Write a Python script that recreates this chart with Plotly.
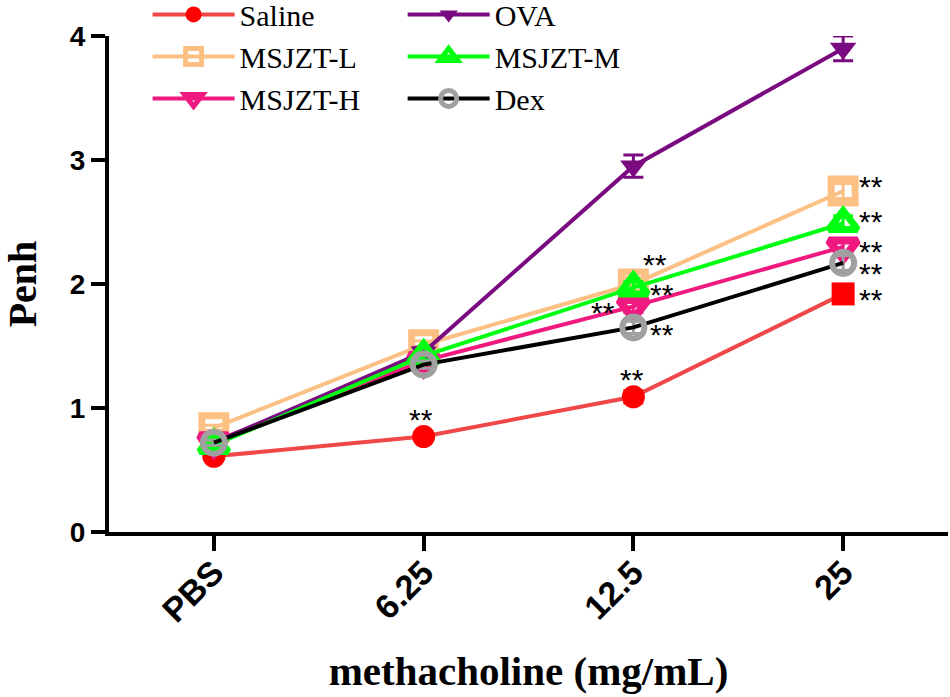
import plotly.graph_objects as go

# methacholine doses
doses = ["PBS", "6.25", "12.5", "25"]
xpos = [0, 1, 2, 3]

saline = [0.61, 0.77, 1.09, 1.92]
ova = [0.72, 1.45, 2.95, 3.90]
msjzt_l = [0.84, 1.51, 2.00, 2.75]
msjzt_m = [0.70, 1.42, 1.97, 2.49]
msjzt_h = [0.73, 1.38, 1.82, 2.30]
dex = [0.72, 1.35, 1.65, 2.17]

ova_err = [0.03, 0.04, 0.09, 0.10]
small_err = [0.02, 0.03, 0.05, 0.06]

serif = "Liberation Serif"
sans = "Liberation Sans"

fig = go.Figure()


def add_group(name, y, line_color, marker, legend, err=None, symbols=None):
    if marker["symbol"].endswith("open"):
        err_color = marker["line"]["color"]
    else:
        err_color = marker["color"]
    fig.add_trace(
        go.Scatter(
            x=xpos,
            y=y,
            name=name,
            mode="lines+markers",
            line=dict(color=line_color, width=4),
            marker=marker if symbols is None else dict(marker, symbol=symbols),
            error_y=dict(
                type="data",
                array=err if err is not None else small_err,
                color=err_color,
                thickness=3,
                width=10,
            ),
            legend=legend,
            legendgroup=name,
        )
    )


add_group("Saline", saline, "#f04848",
          dict(symbol="circle", size=23, color="#ff0000"), "legend",
          symbols=["circle", "circle", "circle", "square"])
add_group("MSJZT-L", msjzt_l, "#fcc084",
          dict(symbol="square-open", size=24, color="#fcc084",
               line=dict(color="#fcc084", width=7)), "legend")
add_group("MSJZT-H", msjzt_h, "#f0197f",
          dict(symbol="triangle-down-open", size=25, color="#f0197f",
               line=dict(color="#f0197f", width=8)), "legend")
add_group("OVA", ova, "#7a0a80",
          dict(symbol="triangle-down", size=23, color="#7a0a80"), "legend2",
          err=ova_err)
add_group("MSJZT-M", msjzt_m, "#00ff10",
          dict(symbol="triangle-up-open", size=25, color="#00ff10",
               line=dict(color="#00ff10", width=7)), "legend2")
add_group("Dex", dex, "#000000",
          dict(symbol="circle-open", size=22, color="#a0a0a0",
               line=dict(color="#a0a0a0", width=6)), "legend2")

# significance marks: (series, dose index, xshift, yshift)
stars = [
    (saline, 1, -3, 17),
    (saline, 2, -1, 17),
    (msjzt_l, 2, 22, 20),
    (msjzt_m, 2, 29, -7),
    (msjzt_h, 2, -30, -6),
    (dex, 2, 29, -7),
    (msjzt_l, 3, 28, 5),
    (msjzt_m, 3, 28, 2),
    (msjzt_h, 3, 28, -5),
    (dex, 3, 28, -11),
    (saline, 3, 28, -6),
]
for series, i, dx, dy in stars:
    fig.add_annotation(
        x=xpos[i], y=series[i], text="**", showarrow=False,
        xshift=dx, yshift=dy, font=dict(family=sans, size=30, color="black"),
    )

fig.update_layout(
    width=950,
    height=697,
    paper_bgcolor="white",
    plot_bgcolor="white",
    margin=dict(l=109, r=2, t=36, b=165, autoexpand=False),
    font=dict(family=sans, color="black"),
    legend=dict(
        x=0.046, y=1.096, xanchor="left", yanchor="top",
        font=dict(family=serif, size=30), tracegroupgap=0,
        bgcolor="rgba(0,0,0,0)", itemwidth=82,
    ),
    legend2=dict(
        x=0.35, y=1.096, xanchor="left", yanchor="top",
        font=dict(family=serif, size=30), tracegroupgap=0,
        bgcolor="rgba(0,0,0,0)", itemwidth=82,
    ),
)

fig.update_xaxes(
    range=[-0.5, 3.5],
    tickvals=xpos,
    ticktext=doses,
    tickangle=-45,
    tickfont=dict(family=sans, size=34, color="black", weight="bold"),
    ticklabelstandoff=-12,
    showline=True, linecolor="black", linewidth=4,
    ticks="outside", ticklen=15, tickwidth=4, tickcolor="black",
    showgrid=False, zeroline=False,
    title=dict(text="<b>methacholine (mg/mL)</b>",
               font=dict(family=serif, size=41, color="black"), standoff=29),
)
fig.update_yaxes(
    range=[0, 4],
    tickvals=[0, 1, 2, 3, 4],
    tickfont=dict(family=sans, size=28, color="black", weight="bold"),
    showline=True, linecolor="black", linewidth=4,
    ticks="outside", ticklen=14, tickwidth=4, tickcolor="black",
    showgrid=False, zeroline=False,
    title=dict(text="<b>Penh</b>",
               font=dict(family=serif, size=40, color="black"), standoff=52),
)

# page body margin off so the figure fills the window
fig.write_html(
    "out.html",
    config={"displayModeBar": False},
    post_script="document.body.style.margin='0';",
)
